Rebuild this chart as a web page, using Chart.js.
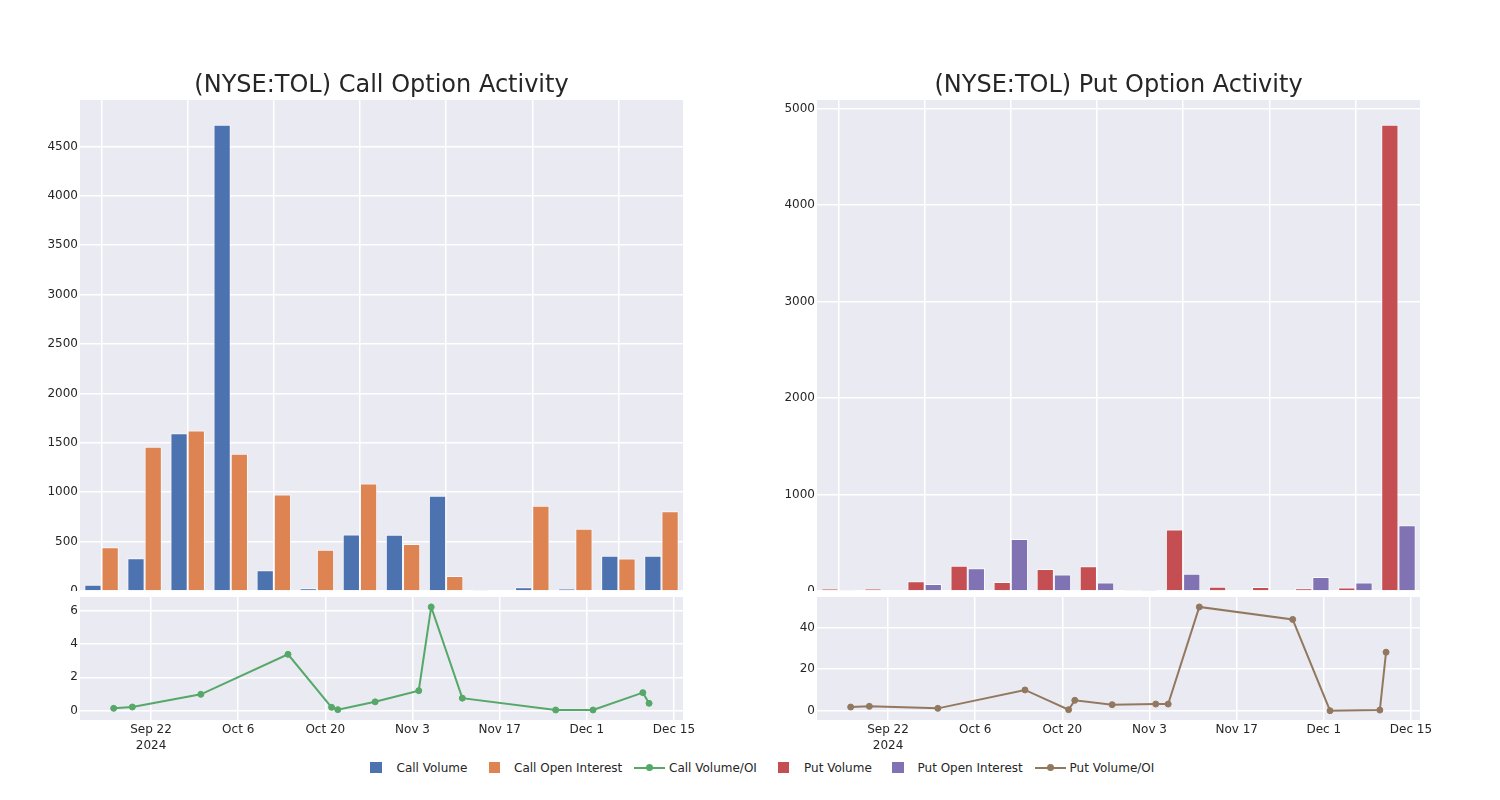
<!DOCTYPE html>
<html><head><meta charset="utf-8">
<script src="https://cdn.jsdelivr.net/npm/chart.js@4.4.1/dist/chart.umd.min.js"></script>
<style>
html,body{margin:0;padding:0;background:#fff;width:1500px;height:800px;overflow:hidden;font-family:"DejaVu Sans",sans-serif;}
.box{position:absolute;}
.sq{position:absolute;width:11.5px;height:11.5px;top:761.8px}
.tx{position:absolute;top:759.5px;line-height:16px;font-size:12px;color:#262626;white-space:nowrap}
.ln{position:absolute;height:2px;top:766.5px;width:31px}
.dot{position:absolute;width:7px;height:7px;border-radius:50%;top:764px}
</style></head>
<body>
<div class="box" style="left:0;top:60px;width:683px;height:531px"><canvas id="callBars"></canvas></div>
<div class="box" style="left:0;top:597px;width:720px;height:157px"><canvas id="callLine"></canvas></div>
<div class="box" style="left:737px;top:60px;width:683px;height:531px"><canvas id="putBars"></canvas></div>
<div class="box" style="left:737px;top:597px;width:720px;height:157px"><canvas id="putLine"></canvas></div>

<div class="sq" style="left:370px;background:#4C72B0"></div>
<div class="tx" style="left:396.5px">Call Volume</div>
<div class="sq" style="left:488.5px;background:#DD8452"></div>
<div class="tx" style="left:514px">Call Open Interest</div>
<div class="ln" style="left:633.5px;background:#55A868"></div>
<div class="dot" style="left:646px;background:#55A868"></div>
<div class="tx" style="left:669px">Call Volume/OI</div>
<div class="sq" style="left:777.5px;background:#C44E52"></div>
<div class="tx" style="left:804px">Put Volume</div>
<div class="sq" style="left:892px;background:#8172B3"></div>
<div class="tx" style="left:917.5px">Put Open Interest</div>
<div class="ln" style="left:1035px;background:#937860"></div>
<div class="dot" style="left:1047px;background:#937860"></div>
<div class="tx" style="left:1069.5px">Put Volume/OI</div>

<script>
// ---- data ----
const dates = ['2024-09-16','2024-09-19','2024-09-30','2024-10-14','2024-10-21','2024-10-22','2024-10-28',
               '2024-11-04','2024-11-06','2024-11-11','2024-11-26','2024-12-02','2024-12-10','2024-12-11'];
const callVolume = [64, 331, 1598, 4720, 209, 27, 573, 570, 964, 5, 37, 24, 357, 357];
const callOI     = [442, 1460, 1625, 1389, 978, 418, 1089, 475, 152, 7, 863, 630, 330, 806];
const callRatio  = [0.14, 0.22, 0.98, 3.38, 0.2, 0.06, 0.53, 1.2, 6.22, 0.75, 0.04, 0.04, 1.08, 0.44];
const putVolume  = [24, 21, 100, 263, 93, 228, 256, 14, 637, 45, 42, 28, 35, 4834];
const putOI      = [14, 7, 73, 235, 540, 170, 87, 3, 180, 0, 0, 145, 87, 682];
const putRatio   = [1.77, 2.1, 1.13, 10.0, 0.48, 5.0, 2.9, 3.2, 3.2, 50, 44, 0, 0.3, 28.2];

const callBarTicks = [0, 500, 1000, 1500, 2000, 2500, 3000, 3500, 4000, 4500];
const putBarTicks  = [0, 1000, 2000, 3000, 4000, 5000];
const callLineTicks = [0, 2, 4, 6];
const putLineTicks  = [0, 20, 40];
const xTickDates  = ['2024-09-22','2024-10-06','2024-10-20','2024-11-03','2024-11-17','2024-12-01','2024-12-15'];
const xTickLabels = ['Sep 22','Oct 6','Oct 20','Nov 3','Nov 17','Dec 1','Dec 15'];
const yearLabel = '2024';

// ---- style ----
const BG = '#EAEAF2', GRID = '#FFFFFF', TXT = '#262626';
const X_MIN = Date.parse('2024-09-10T14:10:00Z'), X_MAX = Date.parse('2024-12-16T10:50:00Z');
Chart.defaults.font.family = '"DejaVu Sans", sans-serif';
Chart.defaults.font.size = 12;
Chart.defaults.color = TXT;
Chart.defaults.animation = false;

const bgPlugin = { id: 'bg', beforeDraw(c) {
  const { ctx, chartArea: a } = c;
  ctx.save(); ctx.fillStyle = BG; ctx.fillRect(a.left, a.top, a.right - a.left, a.bottom - a.top); ctx.restore();
}};
const fixY = w => s => { s.width = w; s.paddingTop = 0; s.paddingBottom = 0; };
const fixX = h => s => { s.height = h; s.paddingLeft = 0; s.paddingRight = 0; };
const setTicks = arr => s => { s.ticks = arr.map(v => ({ value: v })); };

function barChart(id, title, d1, d2, c1, c2, n1, n2, yMax, yTicks) {
  const ds = (label, data, color) => ({ label, data, backgroundColor: color, borderColor: 'rgba(255,255,255,0.75)',
    borderWidth: 1, categoryPercentage: 0.8, barPercentage: 1.0 });
  new Chart(document.getElementById(id), {
    type: 'bar',
    data: { labels: dates, datasets: [ds(n1, d1, c1), ds(n2, d2, c2)] },
    options: {
      responsive: true, maintainAspectRatio: false, animation: false,
      layout: { padding: 0, autoPadding: false },
      plugins: { legend: { display: false }, tooltip: { enabled: false },
        title: { display: true, text: title, fullSize: false, color: TXT,
                 font: { size: 24, weight: 'normal', lineHeight: 1.15 }, padding: { top: 12.2, bottom: 0.2 } } },
      scales: {
        x: { ticks: { display: false }, border: { display: false },
             grid: { offset: false, drawTicks: false, lineWidth: 1.5,
                     color: c => (c.index % 2 === 0 ? GRID : 'rgba(0,0,0,0)') },
             afterFit: fixX(0) },
        y: { min: 0, max: yMax, bounds: 'data', afterBuildTicks: setTicks(yTicks),
             ticks: { padding: 2, color: TXT, callback: v => String(v) },
             grid: { drawTicks: false, color: GRID, lineWidth: 1.5 }, border: { display: false },
             afterFit: fixY(80) }
      }
    },
    plugins: [bgPlugin]
  });
}

function lineChart(id, vals, color, name, yMin, yMax, yTicks) {
  const pts = dates.map((d, i) => ({ x: Date.parse(d), y: vals[i] }));
  new Chart(document.getElementById(id), {
    type: 'line',
    data: { datasets: [{ label: name, data: pts, borderColor: color, backgroundColor: color,
      pointBackgroundColor: color, pointBorderColor: color, borderWidth: 2, pointRadius: 3, pointBorderWidth: 1,
      tension: 0, fill: false }] },
    options: {
      responsive: true, maintainAspectRatio: false, animation: false,
      layout: { padding: { right: 37, left: 0, top: 0, bottom: 0 }, autoPadding: false },
      plugins: { legend: { display: false }, tooltip: { enabled: false } },
      scales: {
        x: { type: 'linear', min: X_MIN, max: X_MAX, bounds: 'data',
             afterBuildTicks: s => { s.ticks = xTickDates.map(d => ({ value: Date.parse(d) })); },
             ticks: { padding: 1.5, maxRotation: 0, autoSkip: false, color: TXT, font: { lineHeight: 1.375 },
                      callback: (v, i) => (i === 0 ? [xTickLabels[i], yearLabel] : xTickLabels[i]) },
             grid: { drawTicks: false, color: GRID, lineWidth: 1.5 }, border: { display: false },
             afterFit: fixX(34) },
        y: { min: yMin, max: yMax, bounds: 'data', afterBuildTicks: setTicks(yTicks),
             ticks: { padding: 2, color: TXT, callback: v => String(v) },
             grid: { drawTicks: false, color: GRID, lineWidth: 1.5 }, border: { display: false },
             afterFit: fixY(80) }
      }
    },
    plugins: [bgPlugin]
  });
}

barChart('callBars', '(NYSE:TOL) Call Option Activity', callVolume, callOI, '#4C72B0', '#DD8452',
         'Call Volume', 'Call Open Interest', 4970, callBarTicks);
barChart('putBars', '(NYSE:TOL) Put Option Activity', putVolume, putOI, '#C44E52', '#8172B3',
         'Put Volume', 'Put Open Interest', 5090, putBarTicks);
lineChart('callLine', callRatio, '#55A868', 'Call Volume/OI', -0.56, 6.82, callLineTicks);
lineChart('putLine', putRatio, '#937860', 'Put Volume/OI', -4.48, 54.8, putLineTicks);
</script>
</body></html>
